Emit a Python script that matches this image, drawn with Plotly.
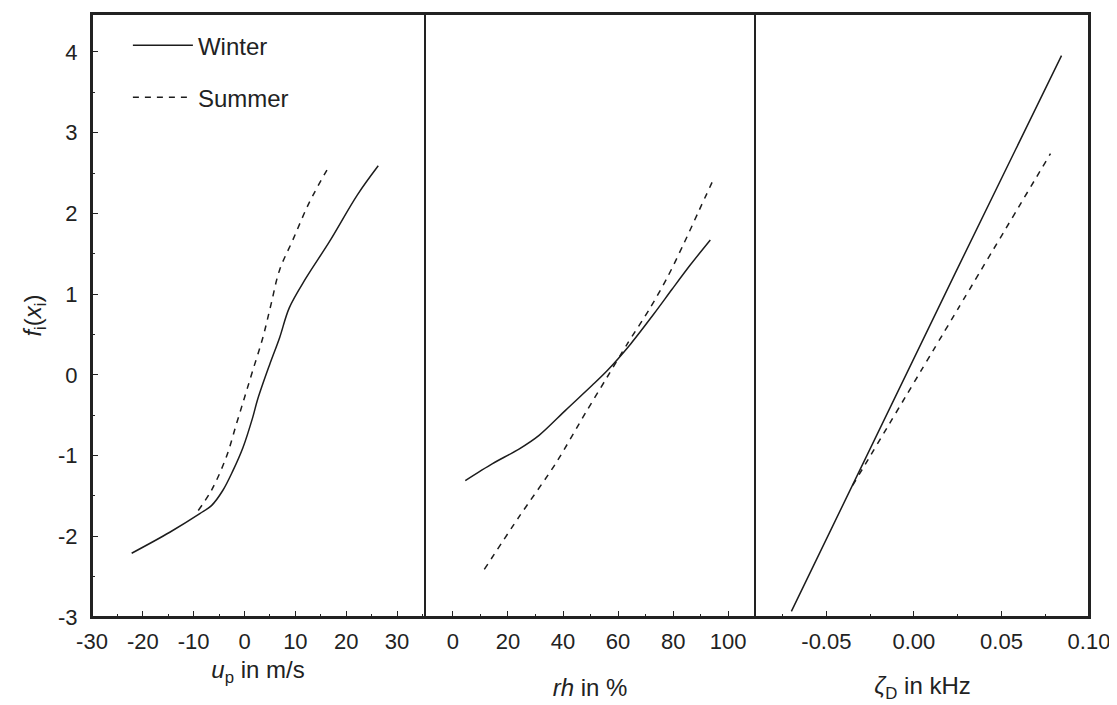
import plotly.graph_objects as go

# ---- data ----
up_winter_x = [-22.2, -14.7, -8.8, -6.5, -4.25, -2.3, -0.3, 1.6, 2.6, 4.9, 6.9, 8.8, 12.1, 16.7, 22.2, 26.3]
up_winter_y = [-2.21, -1.95, -1.72, -1.62, -1.43, -1.19, -0.90, -0.53, -0.30, 0.12, 0.46, 0.83, 1.20, 1.65, 2.23, 2.59]
up_summer_x = [-9.1, -6.5, -3.6, -1.6, 0.0, 1.6, 3.6, 5.2, 6.9, 9.5, 12.7, 16.6]
up_summer_y = [-1.68, -1.43, -1.02, -0.61, -0.28, 0.05, 0.46, 0.87, 1.30, 1.67, 2.13, 2.58]

rh_winter_x = [4.5, 14.4, 24.0, 31.3, 40.9, 50.6, 56.0, 64.5, 72.9, 79.6, 86.2, 93.5]
rh_winter_y = [-1.31, -1.10, -0.92, -0.75, -0.44, -0.13, 0.05, 0.38, 0.75, 1.06, 1.36, 1.67]
rh_summer_x = [11.4, 24.0, 37.3, 48.2, 56.0, 63.3, 71.5, 77.8, 83.8, 89.2, 94.9]
rh_summer_y = [-2.41, -1.76, -1.10, -0.47, -0.03, 0.38, 0.82, 1.20, 1.62, 2.02, 2.44]

zeta_winter_x = [-0.070, 0.0236, 0.0843]
zeta_winter_y = [-2.93, 1.26, 3.955]
zeta_summer_x = [-0.035, 0.0255, 0.078]
zeta_summer_y = [-1.37, 0.83, 2.74]

series_names = ["Winter", "Summer"]
x_titles = ["<i>u</i><sub>p</sub> in m/s", "<i>rh</i> in %", "<i>ζ</i><sub>D</sub> in kHz"]
y_title = "<i>f</i><sub>i</sub>(<i>x</i><sub>i</sub>)"

up_tickvals = [-30, -20, -10, 0, 10, 20, 30]
up_ticktext = ["-30", "-20", "-10", "0", "10", "20", "30"]
rh_tickvals = [0, 20, 40, 60, 80, 100]
rh_ticktext = ["0", "20", "40", "60", "80", "100"]
zeta_tickvals = [-0.05, 0.0, 0.05, 0.10]
zeta_ticktext = ["-0.05", "0.00", "0.05", "0.10"]
y_tickvals = [-3, -2, -1, 0, 1, 2, 3, 4]
y_ticktext = ["-3", "-2", "-1", "0", "1", "2", "3", "4"]

FONT = "Liberation Sans, Arial, sans-serif"
INK = "#1c1c1c"
AXC = "#222"
LW = 2

fig = go.Figure()

panels = [
    (up_winter_x, up_winter_y, up_summer_x, up_summer_y, 1.0),
    (rh_winter_x, rh_winter_y, rh_summer_x, rh_summer_y, 0.8),
    (zeta_winter_x, zeta_winter_y, zeta_summer_x, zeta_summer_y, 0.5),
]
for i, (wx, wy, sx, sy, sm) in enumerate(panels):
    ax = "" if i == 0 else str(i + 1)
    fig.add_trace(go.Scatter(x=wx, y=wy, mode="lines", name=series_names[0],
                             line=dict(color=INK, width=1.5, shape="spline", smoothing=sm),
                             xaxis="x" + ax, yaxis="y" + ax, showlegend=(i == 0),
                             legendgroup="w"))
    fig.add_trace(go.Scatter(x=sx, y=sy, mode="lines", name=series_names[1],
                             line=dict(color=INK, width=1.5, dash="6px,6px", shape="spline", smoothing=sm),
                             xaxis="x" + ax, yaxis="y" + ax, showlegend=(i == 0),
                             legendgroup="s"))

common_axis = dict(showline=True, linecolor=AXC, linewidth=LW, mirror=True,
                   showgrid=False, zeroline=False, ticks="inside", ticklen=6,
                   tickcolor=AXC, tickwidth=1, tickmode="array",
                   tickfont=dict(family=FONT, size=22, color="#222"))

xranges = [[-30, 35.3], [-10.5, 110.1], [-0.0902, 0.10]]
xtv = [up_tickvals, rh_tickvals, zeta_tickvals]
xtt = [up_ticktext, rh_ticktext, zeta_ticktext]
xminor = [5, 10, 0.025]
domains = [[0, 0.333], [0.333, 0.666], [0.666, 1.0]]
standoffs = [8, 26, 24]

layout = {}
for i in range(3):
    key = "xaxis" if i == 0 else "xaxis%d" % (i + 1)
    layout[key] = dict(common_axis, range=xranges[i], tickvals=xtv[i], ticktext=xtt[i],
                       domain=domains[i], ticklabelstandoff=4,
                       anchor="y" if i == 0 else "y%d" % (i + 1),
                       minor=dict(tickmode="linear", tick0=0, dtick=xminor[i],
                                  ticks="inside", ticklen=3, tickcolor=AXC),
                       title=dict(text=x_titles[i], standoff=standoffs[i],
                                  font=dict(family=FONT, size=24, color="#222")))

layout["yaxis"] = dict(common_axis, range=[-3, 4.47], tickvals=y_tickvals, ticktext=y_ticktext,
                       anchor="x", ticklabelstandoff=8,
                       minor=dict(tickmode="linear", tick0=0, dtick=0.5,
                                  ticks="inside", ticklen=3, tickcolor=AXC),
                       title=dict(text=y_title, standoff=10,
                                  font=dict(family=FONT, size=24, color="#222")))
layout["yaxis2"] = dict(showline=False, showgrid=False, zeroline=False, ticks="",
                        showticklabels=False, range=[-3, 4.47], matches="y", anchor="x2")
layout["yaxis3"] = dict(showline=True, linecolor=AXC, linewidth=LW, mirror=True,
                        showgrid=False, zeroline=False, ticks="", showticklabels=False,
                        range=[-3, 4.47], matches="y", anchor="x3")

fig.update_layout(**layout)
# outer frame of the three panels
fig.add_shape(type="rect", xref="paper", yref="paper", x0=0, x1=1, y0=0, y1=1,
              line=dict(color=AXC, width=LW), fillcolor="rgba(0,0,0,0)", layer="above")
fig.update_layout(
    width=1117, height=705,
    margin=dict(l=84, r=36, t=4, b=96),
    paper_bgcolor="white", plot_bgcolor="white",
    showlegend=True,
    legend=dict(x=0.036, y=0.985, xanchor="left", yanchor="top",
                bgcolor="rgba(0,0,0,0)", borderwidth=0, itemwidth=60,
                traceorder="grouped", tracegroupgap=18,
                font=dict(family=FONT, size=24, color="#222")),
)

fig.write_html("out.html")
